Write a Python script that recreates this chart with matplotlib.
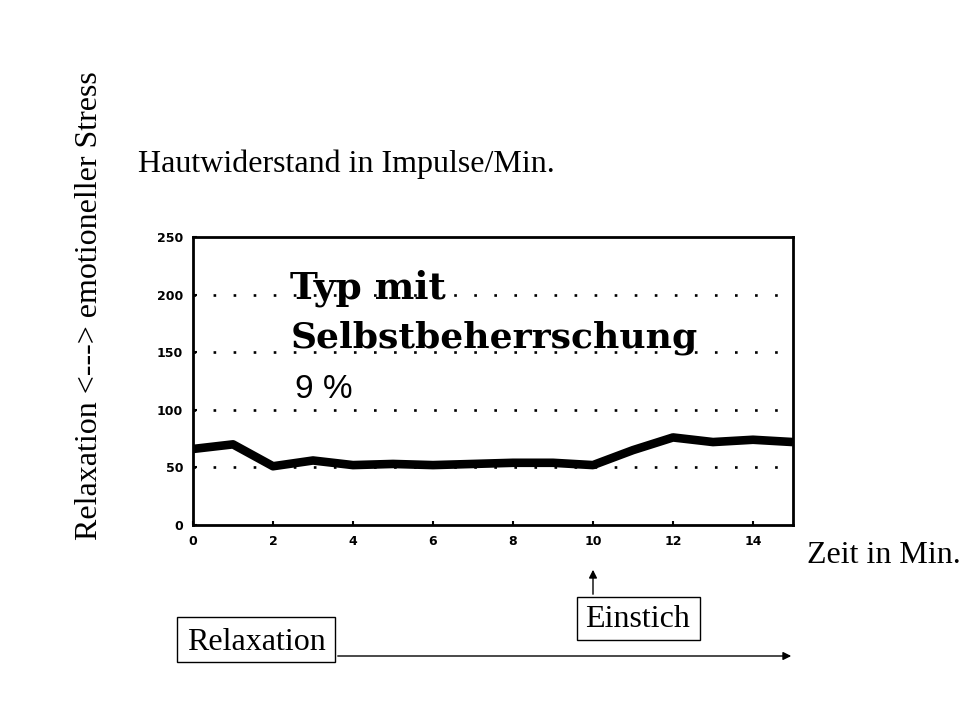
import matplotlib
matplotlib.use("Agg")
import matplotlib.pyplot as plt
from matplotlib.patches import Rectangle, FancyArrowPatch

# Skin resistance over time (pulses per minute)
minutes = list(range(16))
resistance = [66, 70, 51, 56, 52, 53, 52, 53, 54, 54, 52, 65, 76, 72, 74, 72]
x_ticks = [0, 2, 4, 6, 8, 10, 12, 14]
y_ticks = [0, 50, 100, 150, 200, 250]
grid_levels = [50, 100, 150, 200]

W, H = 960, 720
fig = plt.figure(figsize=(W / 100, H / 100), dpi=100)
fig.patch.set_facecolor("white")


def fx(x):
    return x / W


def fy(y):
    return 1 - y / H


serif = "Liberation Serif"

ax = fig.add_axes([fx(193), fy(525), fx(793) - fx(193), (525 - 237) / H])
for lvl in grid_levels:
    ax.axhline(lvl, color="black", lw=1.9, linestyle=(0, (1, 6.6)), zorder=1)
ax.plot(minutes, resistance, color="black", lw=6.2, solid_joinstyle="round",
        solid_capstyle="butt", zorder=3)
ax.set_xlim(0, 15)
ax.set_ylim(0, 250)
ax.set_xticks(x_ticks)
ax.set_yticks(y_ticks)
ax.tick_params(direction="in", length=3, width=1.5, pad=7)
for lab in ax.get_xticklabels() + ax.get_yticklabels():
    lab.set_fontsize(9)
    lab.set_fontweight("bold")
    lab.set_family("DejaVu Sans")
for sp in ax.spines.values():
    sp.set_linewidth(2)

ax.text(0.162, 0.785, "Typ mit", transform=ax.transAxes, fontsize=27,
        fontweight="bold", family="DejaVu Serif", va="baseline", ha="left")
ax.text(0.162, 0.615, "Selbstbeherrschung", transform=ax.transAxes, fontsize=26,
        fontweight="bold", family="DejaVu Serif", va="baseline", ha="left")
ax.text(0.17, 0.44, "9 %", transform=ax.transAxes, fontsize=24,
        family="Liberation Sans", va="baseline", ha="left")

fig.text(fx(138), fy(172), "Hautwiderstand in Impulse/Min.", fontsize=23,
         family=serif, ha="left", va="baseline")
fig.text(fx(90), fy(306), "Relaxation <---> emotioneller Stress", fontsize=23,
         family=serif, rotation=90, ha="center", va="center")
fig.text(fx(807), fy(563), "Zeit in Min.", fontsize=23, family=serif,
         ha="left", va="baseline")

# Labelled boxes
fig.patches.append(Rectangle((fx(577), fy(640)), fx(700) - fx(577), (640 - 597) / H,
                             transform=fig.transFigure, fill=False, lw=1, ec="black"))
fig.text(fx(638), fy(627), "Einstich", fontsize=23, family=serif,
         ha="center", va="baseline")
fig.patches.append(Rectangle((fx(177), fy(662)), fx(335) - fx(177), (662 - 617) / H,
                             transform=fig.transFigure, fill=False, lw=1, ec="black"))
fig.text(fx(256), fy(650), "Relaxation", fontsize=23, family=serif,
         ha="center", va="baseline")

# Arrows
fig.patches.append(FancyArrowPatch((fx(593), fy(597)), (fx(593), fy(567)),
                                   transform=fig.transFigure, arrowstyle="-|>",
                                   mutation_scale=12, lw=1, color="black"))
fig.patches.append(FancyArrowPatch((fx(335), fy(656)), (fx(794), fy(656)),
                                   transform=fig.transFigure, arrowstyle="-|>",
                                   mutation_scale=12, lw=1, color="black"))

fig.savefig("out.png", dpi=100, facecolor="white")
